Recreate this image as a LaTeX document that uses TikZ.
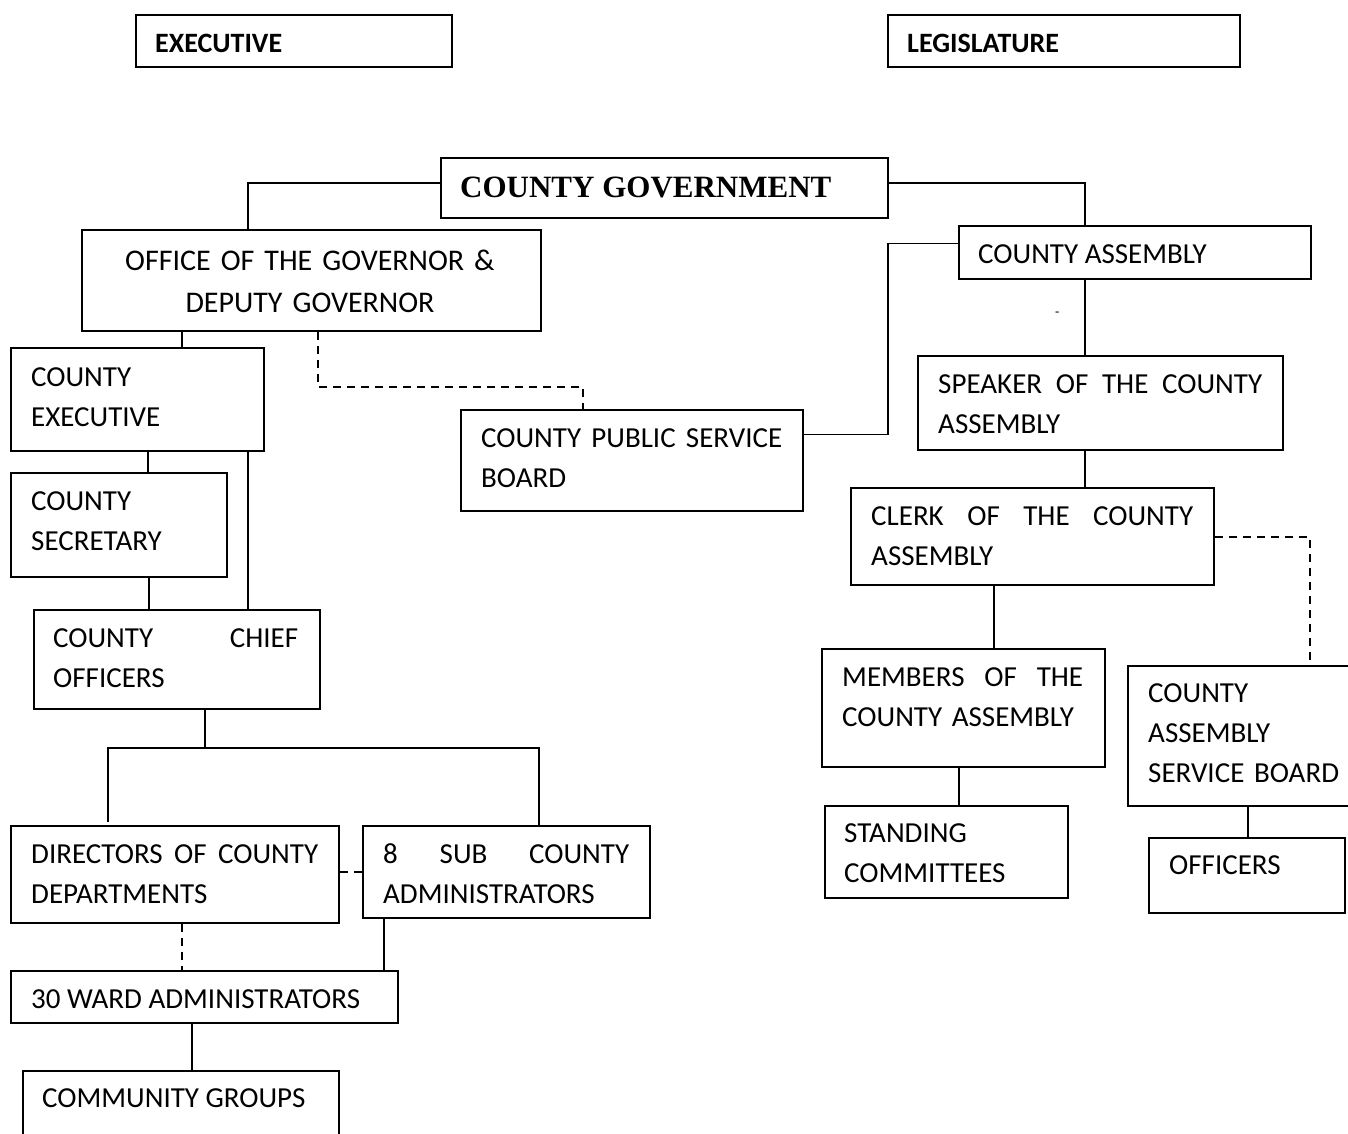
\documentclass[tikz,border=0pt]{standalone}
\usepackage{fontspec}
\setmainfont{Carlito}
\newfontfamily\tnrfont{Liberation Serif}
\usetikzlibrary{calc}
\begin{document}
\begin{tikzpicture}[x=1pt,y=-1pt,
  box/.style={draw,line width=1.9pt,inner sep=0pt,anchor=north west,rectangle},
  txt/.style={inner sep=0pt,anchor=base west,align=left,font=\fontsize{29}{40}\selectfont},
  ctxt/.style={inner sep=0pt,anchor=base,align=center,font=\fontsize{30}{42}\selectfont},
  conn/.style={line width=1.9pt},
  dconn/.style={line width=2pt,dash pattern=on 8pt off 6pt}]
\useasboundingbox (0,0) rectangle (1348,1133);
% boxes
\node[box,minimum width=316pt,minimum height=52pt] (exec) at (135,14) {};
\node[box,minimum width=352pt,minimum height=52pt] (legis) at (887,14) {};
\node[box,minimum width=447pt,minimum height=60pt] (cg) at (440,157) {};
\node[box,minimum width=459pt,minimum height=101pt] (office) at (81,229) {};
\node[box,minimum width=253pt,minimum height=103pt] (ce) at (10,347) {};
\node[box,minimum width=216pt,minimum height=104pt] (cs) at (10,472) {};
\node[box,minimum width=286pt,minimum height=99pt] (cco) at (33,609) {};
\node[box,minimum width=342pt,minimum height=101pt] (cpsb) at (460,409) {};
\node[box,minimum width=352pt,minimum height=53pt] (ca) at (958,225) {};
\node[box,minimum width=365pt,minimum height=94pt] (speaker) at (917,355) {};
\node[box,minimum width=363pt,minimum height=97pt] (clerk) at (850,487) {};
\node[box,minimum width=283pt,minimum height=118pt] (members) at (821,648) {};
\node[box,minimum width=225pt,minimum height=140pt] (casb) at (1127,665) {};
\node[box,minimum width=243pt,minimum height=92pt] (stand) at (824,805) {};
\node[box,minimum width=196pt,minimum height=75pt] (off) at (1148,837) {};
\node[box,minimum width=328pt,minimum height=97pt] (dir) at (10,825) {};
\node[box,minimum width=287pt,minimum height=92pt] (sub) at (362,825) {};
\node[box,minimum width=387pt,minimum height=52pt] (ward) at (10,970) {};
\node[box,minimum width=316pt,minimum height=72pt] (com) at (22,1070) {};
% texts
\node[txt,font=\fontsize{28}{40}\selectfont\bfseries] (exec-t) at (155,52) {EXECUTIVE};
\node[txt,font=\fontsize{28}{40}\selectfont\bfseries] (legis-t) at (907,52) {LEGISLATURE};
\node[txt,font=\tnrfont\fontsize{31}{36}\selectfont\bfseries] (cg-t) at (460,197) {COUNTY GOVERNMENT};
\node[ctxt,text width=440pt] (office-t) at (310,270) {OFFICE OF THE GOVERNOR \&\\DEPUTY GOVERNOR};
\node[txt,text width=220pt] (ce-t) at (31,386) {COUNTY\\EXECUTIVE};
\node[txt,text width=190pt] (cs-t) at (31,510) {COUNTY\\SECRETARY};
\node[txt,text width=245pt] (cco-t) at (53,647) {COUNTY\hfill CHIEF\\OFFICERS};
\node[txt,text width=301pt] (cpsb-t) at (481,447) {COUNTY\hfill PUBLIC\hfill SERVICE\\BOARD};
\node[txt] (ca-t) at (978,263) {COUNTY ASSEMBLY};
\node[txt,text width=324pt] (speaker-t) at (938,393) {SPEAKER\hfill OF\hfill THE\hfill COUNTY\\ASSEMBLY};
\node[txt,text width=322pt] (clerk-t) at (871,525) {CLERK\hfill OF\hfill THE\hfill COUNTY\\ASSEMBLY};
\node[txt,text width=241pt] (members-t) at (842,686) {MEMBERS\hfill OF\hfill THE\\COUNTY ASSEMBLY};
\node[txt,text width=200pt] (casb-t) at (1148,702) {COUNTY\\ASSEMBLY\\SERVICE BOARD};
\node[txt,text width=220pt] (stand-t) at (844,842) {STANDING\\COMMITTEES};
\node[txt] (off-t) at (1169,874) {OFFICERS};
\node[txt,text width=287pt] (dir-t) at (31,863) {DIRECTORS\hfill OF\hfill COUNTY\\DEPARTMENTS};
\node[txt,text width=246pt] (sub-t) at (383,863) {8\hfill SUB\hfill COUNTY\\ADMINISTRATORS};
\node[txt] (ward-t) at (31,1008) {30 WARD ADMINISTRATORS};
\node[txt] (com-t) at (42,1107) {COMMUNITY GROUPS};
\node[txt,font=\fontsize{14}{16}\selectfont] (stray) at (1055,316) {-};
% connectors
\draw[conn] ([yshift=5pt]cg.west) -| ([xshift=167pt]office.north west);
\draw[conn] ([yshift=5pt]cg.east) -| ([xshift=127pt]ca.north west);
\draw[conn] ([xshift=101pt]office.south west) -- ([xshift=172pt]ce.north west);
\draw[dconn] ([xshift=237pt]office.south west) |- ([xshift=123pt,yshift=22pt]cpsb.north west) -- ([xshift=123pt]cpsb.north west);
\draw[conn] ([xshift=138pt]ce.south west) -- ([xshift=138pt]cs.north west);
\draw[conn] ([xshift=238pt]ce.south west) -- ([xshift=215pt]cco.north west);
\draw[conn] ([xshift=139pt]cs.south west) -- ([xshift=116pt]cco.north west);
\draw[conn] ([xshift=172pt]cco.south west) -- ([xshift=172pt,yshift=-38pt]cco.south west) coordinate (j);
\draw[conn] ([xshift=98pt,yshift=3pt]dir.north west) |- (j) -| ([xshift=177pt]sub.north west);
\draw[dconn] ([yshift=2pt]dir.east) -- ([yshift=2pt]dir.east -| sub.west);
\draw[dconn] ([xshift=172pt]dir.south west) -- ([xshift=172pt]ward.north west);
\draw[conn] ([xshift=22pt]sub.south west) -- ([xshift=374pt]ward.north west);
\draw[conn] ([xshift=182pt]ward.south west) -- ([xshift=170pt]com.north west);
\draw[conn] ([yshift=26pt]cpsb.east) -- ++(84pt,0) |- ([yshift=9pt]ca.west);
\draw[conn] ([xshift=127pt]ca.south west) -- ([xshift=168pt]speaker.north west);
\draw[conn] ([xshift=168pt]speaker.south west) -- ([xshift=235pt]clerk.north west);
\draw[dconn] ([yshift=-1pt]clerk.east) -| ([xshift=183pt]casb.north west);
\draw[conn] ([xshift=144pt]clerk.south west) -- ([xshift=173pt]members.north west);
\draw[conn] ([xshift=138pt]members.south west) -- ([xshift=135pt]stand.north west);
\draw[conn] ([xshift=121pt]casb.south west) -- ([xshift=100pt]off.north west);
\end{tikzpicture}
\end{document}
